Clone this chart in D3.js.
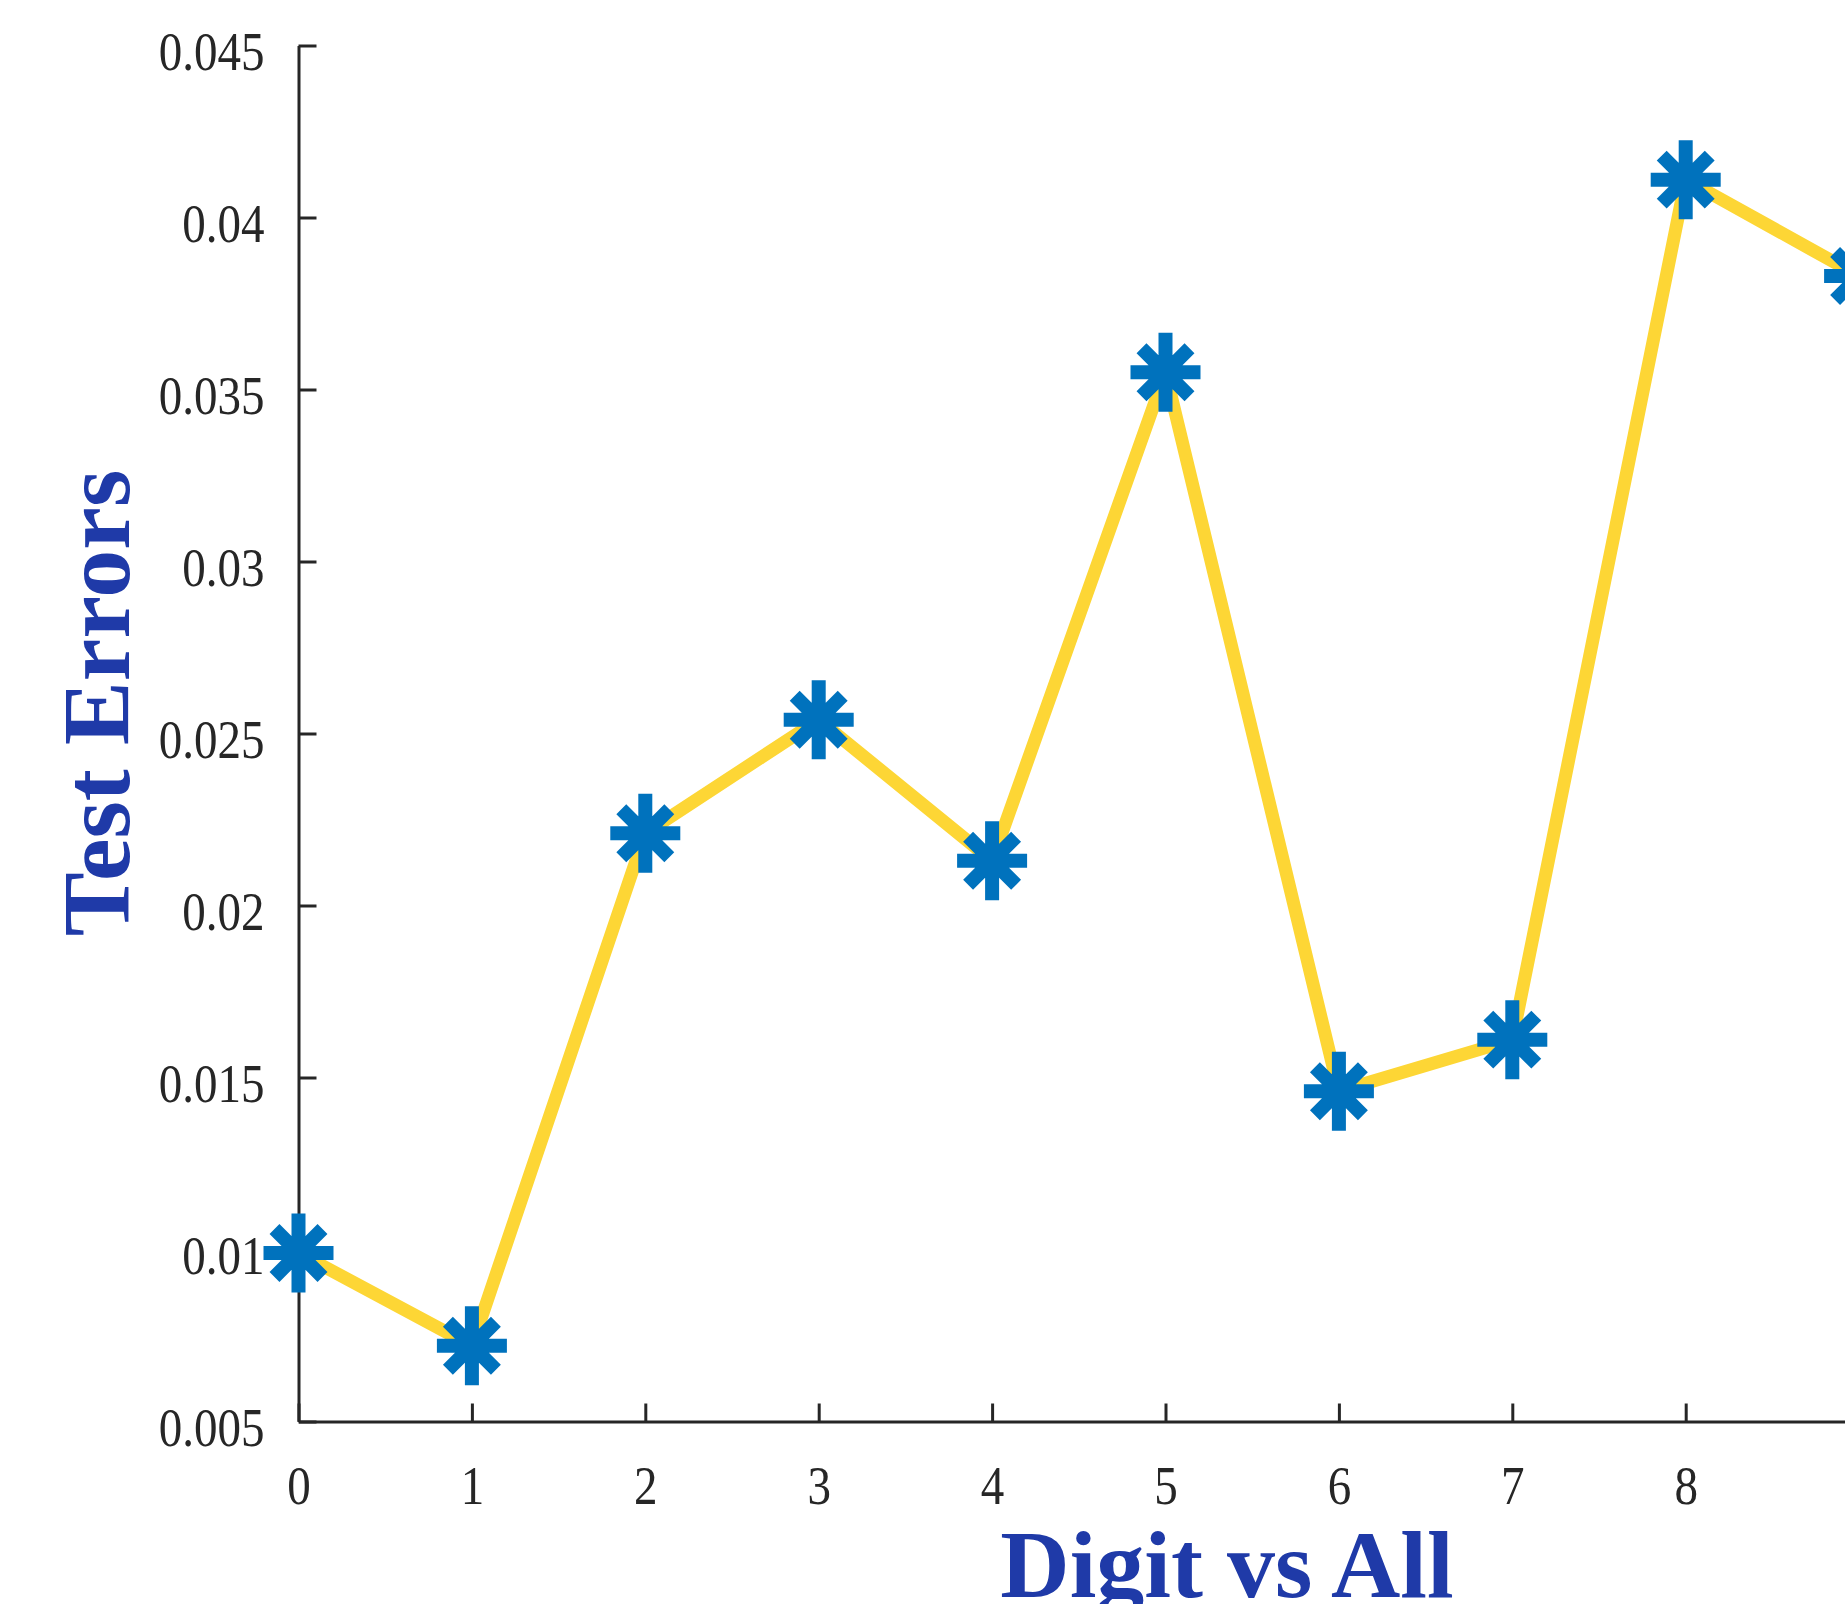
<!DOCTYPE html>
<html>
<head>
<meta charset="utf-8">
<script src="https://cdn.jsdelivr.net/npm/d3@7"></script>
<style>
  html, body { margin: 0; padding: 0; background: #fff; overflow: hidden; }
  svg { display: block; }
</style>
</head>
<body>
<svg id="chart" width="1845" height="1604"></svg>
<script>
// Data
const digits = [0, 1, 2, 3, 4, 5, 6, 7, 8, 9];
const testErrors = [0.0099, 0.0072, 0.0221, 0.0254, 0.0213, 0.0355, 0.0146, 0.0161, 0.0411, 0.0383];
const yTicks = [0.005, 0.01, 0.015, 0.02, 0.025, 0.03, 0.035, 0.04, 0.045];
const xTicks = [0, 1, 2, 3, 4, 5, 6, 7, 8];
const xLabel = "Digit vs All";
const yLabel = "Test Errors";

(function () {
const svg = d3.select("#chart");
const plotLeft = 298.5, plotBottom = 1421.5, plotTop = 45.5, step = 173.4;

const x = d3.scaleLinear().domain([0, 10]).range([plotLeft, plotLeft + 10 * step]);
const y = d3.scaleLinear().domain([0.005, 0.045]).range([plotBottom, plotTop]);

const axisColor = "#262626";
const tickFont = "'Liberation Serif', 'Times New Roman', serif";

// Y axis
const yAxis = svg.append("g")
  .attr("transform", `translate(${plotLeft},0)`)
  .call(d3.axisLeft(y).tickValues(yTicks).tickSizeInner(-18).tickSizeOuter(0)
    .tickFormat(d => String(+d.toFixed(3))));
// X axis
const xAxis = svg.append("g")
  .attr("transform", `translate(0,${plotBottom})`)
  .call(d3.axisBottom(x).tickValues(xTicks).tickSizeInner(-18).tickSizeOuter(0)
    .tickFormat(d3.format("d")));

[yAxis, xAxis].forEach(g => {
  g.select(".domain").attr("stroke", axisColor).attr("stroke-width", 3);
  g.selectAll(".tick line").attr("stroke", axisColor).attr("stroke-width", 3);
  g.selectAll(".tick text")
    .attr("fill", axisColor)
    .style("font-family", tickFont)
    .style("font-size", "54px");
});
yAxis.selectAll(".tick text")
  .attr("x", 0).attr("dy", "0.435em")
  .attr("text-anchor", "end")
  .attr("transform", "translate(-34,0) scale(0.87,1)");
xAxis.selectAll(".tick text")
  .attr("y", 0).attr("dy", null)
  .attr("text-anchor", "middle")
  .attr("transform", "translate(0,82) scale(0.87,1)");

// Line
const line = d3.line().x((d, i) => x(digits[i])).y(d => y(d));
svg.append("path")
  .datum(testErrors)
  .attr("d", line)
  .attr("fill", "none")
  .attr("stroke", "#FDD635")
  .attr("stroke-width", 13)
  .attr("stroke-linejoin", "miter");

// Asterisk markers
const star = "M-35,0H35M0,-39.5V39.5M-24,-24L24,24M-24,24L24,-24";
svg.append("g").selectAll("path")
  .data(testErrors)
  .join("path")
  .attr("transform", (d, i) => `translate(${x(digits[i])},${y(d)})`)
  .attr("d", star)
  .attr("fill", "none")
  .attr("stroke", "#0072BD")
  .attr("stroke-width", 14)
  .attr("stroke-linecap", "butt");

// Axis labels
const labelColor = "#1F3AA8";
svg.append("text")
  .attr("x", 1227).attr("y", 1597)
  .attr("text-anchor", "middle")
  .attr("fill", labelColor)
  .style("font-family", tickFont)
  .style("font-weight", "bold")
  .style("font-size", "96px")
  .text(xLabel);

svg.append("text")
  .attr("transform", "translate(129,703) rotate(-90)")
  .attr("text-anchor", "middle")
  .attr("fill", labelColor)
  .style("font-family", tickFont)
  .style("font-weight", "bold")
  .style("font-size", "96px")
  .text(yLabel);
})();
</script>
</body>
</html>
